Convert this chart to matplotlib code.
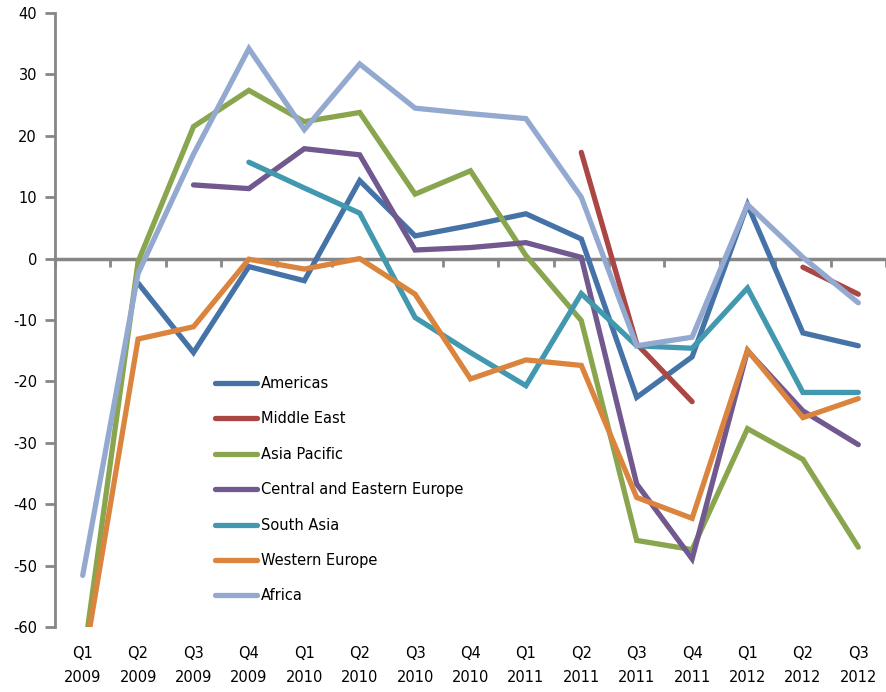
import numpy as np
import matplotlib
matplotlib.use('Agg')
import matplotlib.pyplot as plt

plt.rcParams['font.family'] = ['DejaVu Sans']
plt.rcParams['axes.unicode_minus'] = False

nan = np.nan

quarters = ['Q1\n2009', 'Q2\n2009', 'Q3\n2009', 'Q4\n2009',
            'Q1\n2010', 'Q2\n2010', 'Q3\n2010', 'Q4\n2010',
            'Q1\n2011', 'Q2\n2011', 'Q3\n2011', 'Q4\n2011',
            'Q1\n2012', 'Q2\n2012', 'Q3\n2012']

americas = [nan, -4.0, -15.3, -1.3, -3.6, 12.7, 3.7, 5.4, 7.3, 3.2, -22.6, -16.0, 8.8, -12.1, -14.2]
middle_east = [nan, nan, nan, nan, nan, nan, nan, nan, nan, 17.3, -13.9, -23.3, nan, -1.4, -5.8]
asia_pacific = [-66.0, -0.5, 21.5, 27.4, 22.3, 23.8, 10.5, 14.3, 0.5, -10.1, -45.9, -47.4, -27.7, -32.7, -47.0]
ce_europe = [nan, nan, 12.0, 11.4, 17.9, 16.9, 1.4, 1.8, 2.6, 0.2, -36.7, -48.9, -15.0, -24.8, -30.3]
south_asia = [nan, nan, nan, 15.7, 11.5, 7.4, -9.6, -15.3, -20.7, -5.7, -14.2, -14.6, -4.8, -21.8, -21.8]
western_europe = [-67.0, -13.1, -11.1, -0.1, -1.7, 0.0, -5.8, -19.6, -16.5, -17.4, -38.9, -42.3, -14.9, -25.9, -22.8]
africa = [-51.6, -2.4, 17.0, 34.2, 21.0, 31.7, 24.5, 23.6, 22.8, 10.0, -14.2, -12.8, 8.8, 0.2, -7.2]

series = [
    ('Americas', americas, '#4572A7'),
    ('Middle East', middle_east, '#AA4643'),
    ('Asia Pacific', asia_pacific, '#89A54E'),
    ('Central and Eastern Europe', ce_europe, '#71588F'),
    ('South Asia', south_asia, '#4198AF'),
    ('Western Europe', western_europe, '#DB843D'),
    ('Africa', africa, '#93A9CF'),
]

W, H = 887, 692
fig = plt.figure(figsize=(W / 100, H / 100), dpi=100)
fig.patch.set_facecolor('white')
ax = fig.add_axes([55 / W, (H - 627) / H, (886 - 55) / W, (627 - 13) / H])

x = np.arange(len(quarters))
for name, vals, color in series:
    ax.plot(x, vals, color=color, lw=3.8, label=name,
            solid_capstyle='round', solid_joinstyle='miter')

ax.set_xlim(-0.5, len(quarters) - 0.5)
ax.set_ylim(-60, 40)

axis_grey = '#868686'
for side in ['top', 'right', 'bottom']:
    ax.spines[side].set_visible(False)
ax.spines['left'].set_color(axis_grey)
ax.spines['left'].set_linewidth(2)

ax.set_yticks(np.arange(-60, 41, 10))
ax.tick_params(axis='y', direction='out', length=7, width=2, color=axis_grey,
               labelsize=10.5, pad=6)

ax.set_xticks(x)
ax.set_xticklabels(quarters)
ax.tick_params(axis='x', length=0, labelsize=10.5, pad=14)
for t in ax.get_xticklabels():
    t.set_linespacing(1.75)

# horizontal category axis crossing at zero, ticks hanging below it
zero_axis = ax.secondary_xaxis(0.6)
for sp in zero_axis.spines.values():
    sp.set_color(axis_grey)
    sp.set_linewidth(2.5)
zero_axis.set_xticks(np.arange(-0.5, len(quarters), 1.0))
zero_axis.set_xticklabels([])
zero_axis.tick_params(axis='x', direction='in', length=6, width=2, color=axis_grey)

leg = ax.legend(loc='upper left', bbox_to_anchor=(215 / W, (H - 376) / H),
                bbox_transform=fig.transFigure, frameon=False, fontsize=10.5,
                handlelength=2.9, handletextpad=0.25, labelspacing=1.4,
                borderpad=0, borderaxespad=0)

fig.savefig('out.png', dpi=100, facecolor='white')
